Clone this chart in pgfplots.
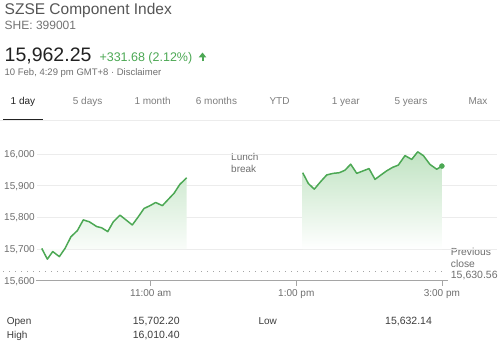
\documentclass[border=0pt]{standalone}
\usepackage{fontspec}
\setmainfont{Liberation Sans}
\usepackage{pgfplots}
\usepackage{pgfplotstable}
\pgfplotsset{compat=1.18}
\usetikzlibrary{arrows.meta}
\definecolor{lg}{RGB}{76,168,84}
\definecolor{gfill}{RGB}{192,227,194}
\definecolor{txtdark}{RGB}{34,34,34}
\definecolor{hdrgray}{RGB}{85,85,85}
\definecolor{subgray}{RGB}{115,115,115}
\definecolor{txtgray}{RGB}{110,110,110}
\definecolor{tabgray}{RGB}{125,125,125}
\definecolor{gridc}{RGB}{236,236,236}
\definecolor{axc}{RGB}{165,165,165}
\definecolor{tbl}{RGB}{60,60,60}
\newcommand{\fs}[1]{\fontsize{#1}{#1}\selectfont}

\pgfplotstableread{
h v
9.503 15702
9.580 15668
9.654 15692
9.745 15676
9.823 15702
9.905 15739
9.992 15758
10.074 15792
10.157 15786
10.258 15771
10.327 15767
10.410 15755
10.486 15786
10.578 15807
10.660 15792
10.747 15776
10.830 15802
10.908 15828
10.990 15837
11.069 15847
11.160 15837
11.242 15857
11.320 15876
11.400 15904
11.494 15925
}\morning

\pgfplotstableread{
h v
13.088 15941
13.165 15907
13.247 15889
13.335 15913
13.418 15934
13.508 15939
13.591 15941
13.669 15949
13.747 15968
13.830 15939
13.920 15947
13.999 15954
14.081 15920
14.163 15934
14.242 15947
14.324 15958
14.401 15965
14.493 15995
14.585 15983
14.668 16007
14.745 15995
14.837 15967
14.929 15952
15.000 15962
}\afternoon

\begin{document}
\begin{tikzpicture}[x=1pt,y=1pt]
\useasboundingbox (0,0) rectangle (500,344);
% header
\node[anchor=base west, inner sep=0, text=hdrgray] at (4.5,329) {\fs{15.5}SZSE Component Index};
\node[anchor=base west, inner sep=0, text=subgray] at (4.5,314) {\fs{12}SHE: 399001};
\node[anchor=base west, inner sep=0, text=txtdark] at (4.5,282.3) {\fs{19.5}15,962.25};
\node[anchor=base west, inner sep=0, text=lg] at (99.3,282.3) {\fs{12.5}+331.68 (2.12\%)};
\draw[lg, line width=2pt, -{Triangle[width=7.5pt,length=5pt]}] (202.5,282.5) -- (202.5,291.5);
\node[anchor=base west, inner sep=0, text=txtgray] at (4.5,268) {\fs{9.5}10 Feb, 4:29 pm GMT+8 · Disclaimer};
% tabs
\node[anchor=base west, inner sep=0, text=txtdark] at (10.5,239) {\fs{10}1 day};
\node[anchor=base west, inner sep=0, text=tabgray] at (72.7,239) {\fs{10}5 days};
\node[anchor=base west, inner sep=0, text=tabgray] at (134.3,239) {\fs{10}1 month};
\node[anchor=base west, inner sep=0, text=tabgray] at (195.7,239) {\fs{10}6 months};
\node[anchor=base west, inner sep=0, text=tabgray] at (269.3,239) {\fs{10}YTD};
\node[anchor=base west, inner sep=0, text=tabgray] at (331.7,239) {\fs{10}1 year};
\node[anchor=base west, inner sep=0, text=tabgray] at (394.3,239) {\fs{10}5 years};
\node[anchor=base west, inner sep=0, text=tabgray] at (468.3,239) {\fs{10}Max};
\draw[gridc, line width=0.9pt] (0,224) -- (500,224);
\draw[txtdark, line width=1.7pt] (3,224.6) -- (43,224.6);
% annotations
\node[anchor=base west, inner sep=0, text=txtgray] at (231,183) {\fs{10}Lunch};
\node[anchor=base west, inner sep=0, text=txtgray] at (231,171) {\fs{10}break};
\node[anchor=base west, inner sep=0, text=txtgray] at (450.7,88.5) {\fs{10.3}Previous};
\node[anchor=base west, inner sep=0, text=txtgray] at (450.7,76.8) {\fs{10.3}close};
\node[anchor=base west, inner sep=0, text=txtgray] at (450.7,65.2) {\fs{10.5}15,630.56};
% bottom table
\node[anchor=base west, inner sep=0, text=tbl] at (6.7,19) {\fs{10}Open};
\node[anchor=base west, inner sep=0, text=tbl] at (132.7,19) {\fs{10.5}15,702.20};
\node[anchor=base west, inner sep=0, text=tbl] at (258.3,19) {\fs{10}Low};
\node[anchor=base west, inner sep=0, text=tbl] at (385,19) {\fs{10.5}15,632.14};
\node[anchor=base west, inner sep=0, text=tbl] at (6.7,5.7) {\fs{10}High};
\node[anchor=base west, inner sep=0, text=tbl] at (132.7,5.7) {\fs{10.5}16,010.40};

\begin{axis}[
  at={(37pt,63.3pt)}, anchor=south west, scale only axis,
  width=460pt, height=142.5pt,
  xmin=9.438, xmax=15.757, ymin=15600, ymax=16050,
  clip=false,
  axis line style={draw=none},
  xtick={11,13,15}, xticklabels={11:00 am,1:00 pm,3:00 pm},
  xtick style={draw=none}, ytick style={draw=none},
  ytick={15700,15800,15900,16000},
  scaled y ticks=false,
  extra y ticks={15600},
  extra y tick style={grid=none, major tick length=0pt, tick style={draw=none}},
  ymajorgrids, major grid style={draw=gridc, line width=0.8pt},
  tick label style={font=\fs{10}, text=txtgray, inner sep=0pt},
  xticklabel style={anchor=base, yshift=-16pt},
  yticklabel style={anchor=base east, xshift=-2pt, yshift=-3.6pt,
    /pgf/number format/fixed, /pgf/number format/precision=0},
  /pgf/number format/1000 sep={,},
  /pgf/number format/assume math mode=true,
]
% fills
\addplot[draw=none, top color=gfill!73!white, bottom color=white] coordinates {
(9.503,15702) (9.580,15668) (9.654,15692) (9.745,15676) (9.823,15702) (9.905,15739)
(9.992,15758) (10.074,15792) (10.157,15786) (10.258,15771) (10.327,15767) (10.410,15755)
(10.486,15786) (10.578,15807) (10.660,15792) (10.747,15776) (10.830,15802) (10.908,15828)
(10.990,15837) (11.069,15847) (11.160,15837) (11.242,15857) (11.320,15876) (11.400,15904)
(11.494,15925) (11.494,15700) (9.503,15700)};
\addplot[draw=none, top color=gfill, bottom color=white] coordinates {
(13.088,15941) (13.165,15907) (13.247,15889) (13.335,15913) (13.418,15934) (13.508,15939)
(13.591,15941) (13.669,15949) (13.747,15968) (13.830,15939) (13.920,15947) (13.999,15954)
(14.081,15920) (14.163,15934) (14.242,15947) (14.324,15958) (14.401,15965) (14.493,15995)
(14.585,15983) (14.668,16007) (14.745,15995) (14.837,15967) (14.929,15952) (15.000,15962)
(15.000,15700) (13.088,15700)};
% axis line and ticks
\draw[axc, line width=0.8pt] (axis cs:9.42,15600) -- (axis cs:15.08,15600);
\draw[axc, line width=0.8pt] ([yshift=0.5pt]axis cs:11,15600) -- ([yshift=-5.5pt]axis cs:11,15600);
\draw[axc, line width=0.8pt] ([yshift=0.5pt]axis cs:13,15600) -- ([yshift=-5.5pt]axis cs:13,15600);
\draw[axc, line width=0.8pt] ([yshift=0.5pt]axis cs:15,15600) -- ([yshift=-5.5pt]axis cs:15,15600);
% previous close
\addplot[axc, line width=0.8pt, dash pattern=on 0.8pt off 5.2pt] coordinates {(8.975,15630.56) (15.07,15630.56)};
% lines
\addplot[lg, line width=1.5pt, line join=round] table[x=h,y=v] {\morning};
\addplot[lg, line width=1.5pt, line join=round] table[x=h,y=v] {\afternoon};
\addplot[only marks, mark=*, mark size=2.5pt, color=lg] coordinates {(15.000,15962)};
\end{axis}
\end{tikzpicture}
\end{document}
